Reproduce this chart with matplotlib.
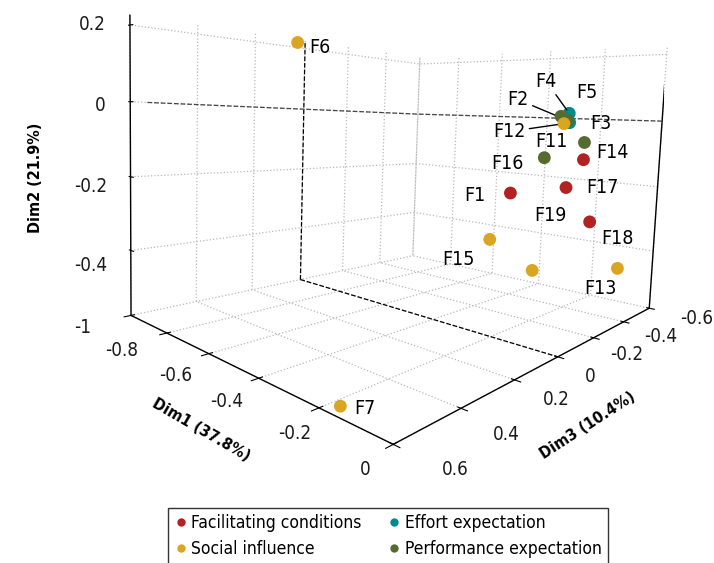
import matplotlib
matplotlib.use("Agg")
import matplotlib.pyplot as plt
import numpy as np
from matplotlib.lines import Line2D

plt.rcParams['font.family'] = ['DejaVu Sans']
plt.rcParams['font.stretch'] = 'condensed'
plt.rcParams['grid.color'] = '#b8b8b8'
plt.rcParams['grid.linestyle'] = ':'
plt.rcParams['grid.linewidth'] = 0.9

# factor coordinates
labels = ['F1', 'F2', 'F3', 'F4', 'F5', 'F6', 'F7', 'F11', 'F12', 'F13',
          'F14', 'F15', 'F16', 'F17', 'F18', 'F19']
dim1 = [-0.05, -0.05, -0.05, -0.05, -0.05, -0.99, -0.16, -0.07, -0.05, -0.05,
        -0.05, -0.05, -0.05, -0.05, -0.05, -0.05]
dim2 = [-0.175, -0.01, -0.065, 0.008, -0.015, 0.215, -0.57, 0.0, -0.018, -0.44,
        -0.11, -0.27, -0.10, -0.178, -0.28, -0.367]
dim3 = [0.175, -0.08, -0.18, -0.085, -0.09, 0.04, 0.58, -0.08, -0.06, -0.45,
        -0.18, 0.25, 0.03, -0.09, -0.24, 0.06]
group = ['FC', 'PE', 'PE', 'EE', 'EE', 'SI', 'SI', 'PE', 'SI', 'SI',
         'FC', 'SI', 'PE', 'FC', 'FC', 'SI']

group_names = ['FC', 'SI', 'EE', 'PE']
group_labels = ['Facilitating conditions', 'Social influence',
                'Effort expectation', 'Performance expectation']
group_colors = ['#B22222', '#DAA520', '#008B8B', '#556B2F']

# label offsets in pixels (right, up) and which ones get a leader line
label_dx = [-36, -50, 16, -23, 17, 22, 24, -10, -55, -17, 29, -31, -37, 36, 28, 18]
label_dy = [-2, 21, 19, 32, 30, -5, -2, -25, -8, -20, 7, -20, -6, 0, -17, 55]
leader = ['F2', 'F4', 'F12']

x_ticks = [-1, -0.8, -0.6, -0.4, -0.2, 0]
y_ticks = [-0.6, -0.4, -0.2, 0, 0.2, 0.4, 0.6]
z_ticks = [-0.4, -0.2, 0, 0.2]
# pixel offsets of each tick label from its tick
x_tick_off = [(-48, -12), (-45, -17), (-33, -22), (-32, -23), (-24, -26), (-28, -25)]
y_tick_off = [(47, -10), (37, -15), (33, -17), (32, -20), (42, -20), (45, -26), (62, -25)]
z_tick_off = [(-40, -15), (-40, -10), (-30, -4), (-38, 0)]
xlim = (-1, 0)
ylim = (0.6, -0.6)
zlim = (-0.58, 0.225)

fig = plt.figure(figsize=(7.14, 5.63), dpi=100)
ax = fig.add_axes([0.067, 0.218, 1, 0.92], projection='3d')
ax.set_proj_type('persp', focal_length=0.2275)
ax.view_init(elev=5, azim=-49, roll=-2)
ax.set_box_aspect((1.0, 1.2, 0.825), zoom=1.128)

ax.set_xlim(*xlim)
ax.set_ylim(*ylim)
ax.set_zlim(*zlim)
ax.set_xticks(x_ticks)
ax.set_yticks(y_ticks)
ax.set_zticks(z_ticks)
for a in (ax.xaxis, ax.yaxis, ax.zaxis):
    a.set_major_formatter(lambda v, _: '')
    a.pane.fill = False
    a.pane.set_edgecolor('none')
    a.line.set_linewidth(1.0)
    a.line.set_color('black')
ax.zaxis.set_ticks_position('upper')

M = ax.get_proj()


def to2d(x, y, z):
    v = M @ np.array([x, y, z, 1.0])
    return v[0] / v[3], v[1] / v[3]


# tick labels next to the box edges
tk = dict(ha='center', va='center', fontsize=13.5, color='#1a1a1a',
          textcoords='offset pixels', annotation_clip=False)
for v, off in zip(x_ticks, x_tick_off):
    ax.annotate('%g' % v, xy=to2d(v, ylim[0], zlim[0]), xytext=off, **tk)
for v, off in zip(y_ticks, y_tick_off):
    ax.annotate('%g' % v, xy=to2d(xlim[1], v, zlim[0]), xytext=off, **tk)
for v, off in zip(z_ticks, z_tick_off):
    ax.annotate('%g' % v, xy=to2d(xlim[0], ylim[0], v), xytext=off, **tk)

ttl = dict(ha='center', va='center', fontsize=11.5, fontweight='bold')
fig.text(201 / 714, 1 - 430 / 563, 'Dim1 (37.8%)', rotation=-30, **ttl)
fig.text(588 / 714, 1 - 425 / 563, 'Dim3 (10.4%)', rotation=33, **ttl)
fig.text(35 / 714, 1 - 178 / 563, 'Dim2 (21.9%)', rotation=90, **ttl)

# box edges and zero lines
ax.plot([xlim[0]] * 2, [ylim[0]] * 2, zlim, color='black', lw=1)
ax.plot([xlim[1]] * 2, [ylim[1]] * 2, zlim, color='black', lw=1)
ax.plot([xlim[0]] * 2, [0, 0], [zlim[0], 0.22], color='black', lw=0.9, ls='--')
ax.plot(xlim, [0, 0], [zlim[0]] * 2, color='black', lw=0.9, ls='--')
ax.plot([xlim[0], xlim[0], xlim[1]], [0.66, ylim[1], ylim[1]], [0, 0, 0],
        color='#444444', lw=0.9, ls='--')

for g, c in zip(group_names, group_colors):
    idx = [i for i, gg in enumerate(group) if gg == g]
    ax.scatter([dim1[i] for i in idx], [dim3[i] for i in idx],
               [dim2[i] for i in idx], color=c, s=85, depthshade=False,
               edgecolors='none', alpha=1)

for i, lab in enumerate(labels):
    props = dict(arrowstyle='-', color='black', lw=1, shrinkA=1, shrinkB=3) if lab in leader else None
    ax.annotate(lab, xy=to2d(dim1[i], dim3[i], dim2[i]),
                xytext=(label_dx[i], label_dy[i]),
                textcoords='offset pixels', ha='center', va='center',
                fontsize=14, arrowprops=props, annotation_clip=False)

handles = [Line2D([], [], ls='none', marker='o', markersize=6,
                  markerfacecolor=c, markeredgecolor='none') for c in group_colors]
fig.legend(handles, group_labels, loc='upper center', ncol=2,
           bbox_to_anchor=(0.543, 0.113), fontsize=12.5, frameon=True,
           fancybox=False, edgecolor='black', handletextpad=0.2,
           columnspacing=1.5, handlelength=0.8, borderpad=0.35, labelspacing=0.45)

fig.savefig('out.png', dpi=100)
